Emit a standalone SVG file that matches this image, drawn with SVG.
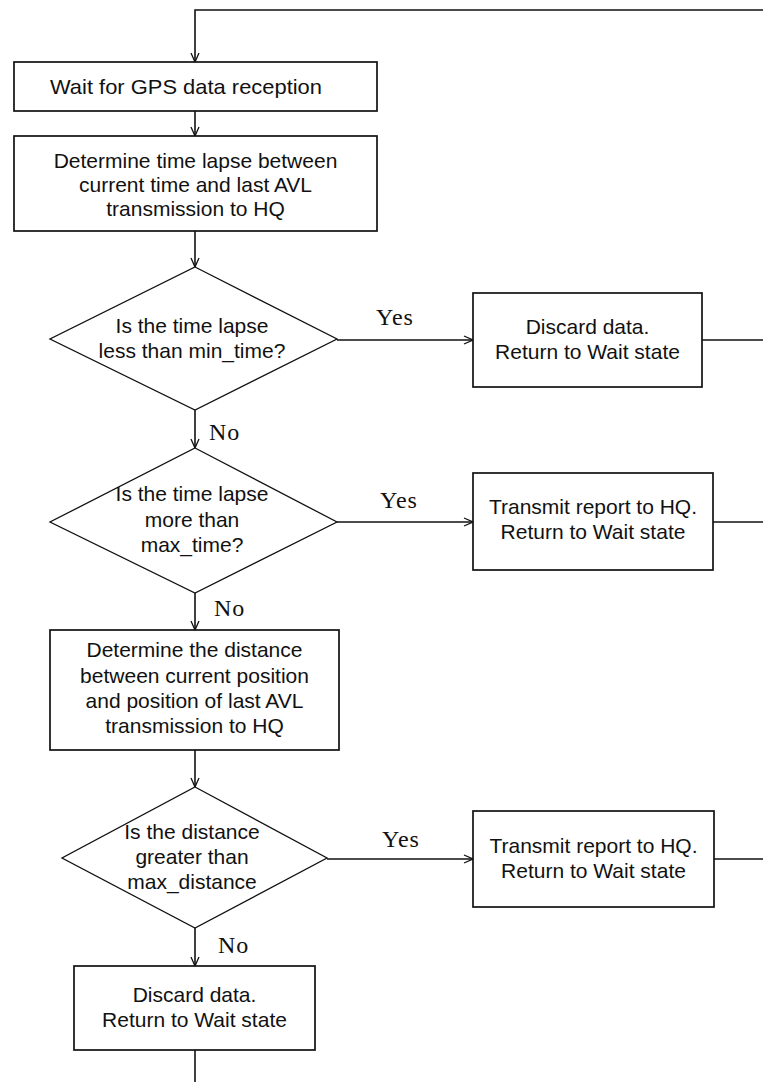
<svg xmlns="http://www.w3.org/2000/svg" width="763" height="1082" viewBox="0 0 763 1082">
<style>
.box{fill:#fff;stroke:#111;stroke-width:1.7}
.dia{fill:#fff;stroke:#111;stroke-width:1.3}
.ln{fill:none;stroke:#111;stroke-width:1.6}
.t{font-family:"Liberation Sans",Arial,sans-serif;font-size:21px;fill:#111;text-anchor:middle}
.lb{font-family:"Liberation Serif","Times New Roman",serif;font-size:24px;fill:#111;letter-spacing:1px}
</style>
<defs>
<marker id="ah" viewBox="0 0 10 10" refX="10" refY="5" markerWidth="10" markerHeight="10" markerUnits="userSpaceOnUse" orient="auto">
<path d="M1,1 L10,5 L1,9" fill="none" stroke="#111" stroke-width="1.3"/>
</marker>
</defs>
<rect width="763" height="1082" fill="#fff"/>
<g id="connectors">
<path class="ln" d="M763,10 H195 V62" marker-end="url(#ah)"/>
<path class="ln" d="M195,111 V136" marker-end="url(#ah)"/>
<path class="ln" d="M195,231 V267" marker-end="url(#ah)"/>
<path class="ln" d="M337,340 H473" marker-end="url(#ah)"/>
<path class="ln" d="M702,340 H763"/>
<path class="ln" d="M195,410 V448" marker-end="url(#ah)"/>
<path class="ln" d="M337,522 H473" marker-end="url(#ah)"/>
<path class="ln" d="M713,522 H763"/>
<path class="ln" d="M195,593 V630" marker-end="url(#ah)"/>
<path class="ln" d="M195,750 V787" marker-end="url(#ah)"/>
<path class="ln" d="M327,859 H473" marker-end="url(#ah)"/>
<path class="ln" d="M714,859 H763"/>
<path class="ln" d="M195,928 V966" marker-end="url(#ah)"/>
<path class="ln" d="M195,1050 V1082"/>
<text class="lb" x="376" y="325">Yes</text>
<text class="lb" x="209" y="440">No</text>
<text class="lb" x="380" y="508">Yes</text>
<text class="lb" x="214" y="616">No</text>
<text class="lb" x="382" y="847">Yes</text>
<text class="lb" x="218" y="953">No</text>
</g>
<g id="wait">
<rect class="box" x="14" y="62" width="363" height="49"/>
<text class="t" x="186" y="94" textLength="272" lengthAdjust="spacingAndGlyphs">Wait for GPS data reception</text>
</g>
<g id="lapse">
<rect class="box" x="14" y="136" width="363" height="95"/>
<text class="t" x="195.5" y="168">Determine time lapse between</text>
<text class="t" x="195.5" y="192">current time and last AVL</text>
<text class="t" x="195.5" y="216">transmission to HQ</text>
</g>
<g id="dec_min">
<polygon class="dia" points="195,267 337,339 195,410 50,339"/>
<text class="t" x="192" y="333">Is the time lapse</text>
<text class="t" x="192" y="358">less than min_time?</text>
</g>
<g id="discard1">
<rect class="box" x="473" y="293" width="229" height="94"/>
<text class="t" x="587.5" y="334">Discard data.</text>
<text class="t" x="587.5" y="359">Return to Wait state</text>
</g>
<g id="dec_max">
<polygon class="dia" points="195,448 337,522 195,593 50,522"/>
<text class="t" x="192" y="501">Is the time lapse</text>
<text class="t" x="192" y="527">more than</text>
<text class="t" x="192" y="552">max_time?</text>
</g>
<g id="transmit1">
<rect class="box" x="473" y="473" width="240" height="97"/>
<text class="t" x="593" y="514">Transmit report to HQ.</text>
<text class="t" x="593" y="539">Return to Wait state</text>
</g>
<g id="distance">
<rect class="box" x="50" y="630" width="289" height="120"/>
<text class="t" x="194.5" y="657">Determine the distance</text>
<text class="t" x="194.5" y="683">between current position</text>
<text class="t" x="194.5" y="708">and position of last AVL</text>
<text class="t" x="194.5" y="733">transmission to HQ</text>
</g>
<g id="dec_dist">
<polygon class="dia" points="195,787 327,858 195,928 62,858"/>
<text class="t" x="192" y="839">Is the distance</text>
<text class="t" x="192" y="864">greater than</text>
<text class="t" x="192" y="889">max_distance</text>
</g>
<g id="transmit2">
<rect class="box" x="473" y="811" width="241" height="96"/>
<text class="t" x="593.5" y="853">Transmit report to HQ.</text>
<text class="t" x="593.5" y="878">Return to Wait state</text>
</g>
<g id="discard2">
<rect class="box" x="74" y="966" width="241" height="84"/>
<text class="t" x="194.5" y="1002">Discard data.</text>
<text class="t" x="194.5" y="1027">Return to Wait state</text>
</g>
</svg>
